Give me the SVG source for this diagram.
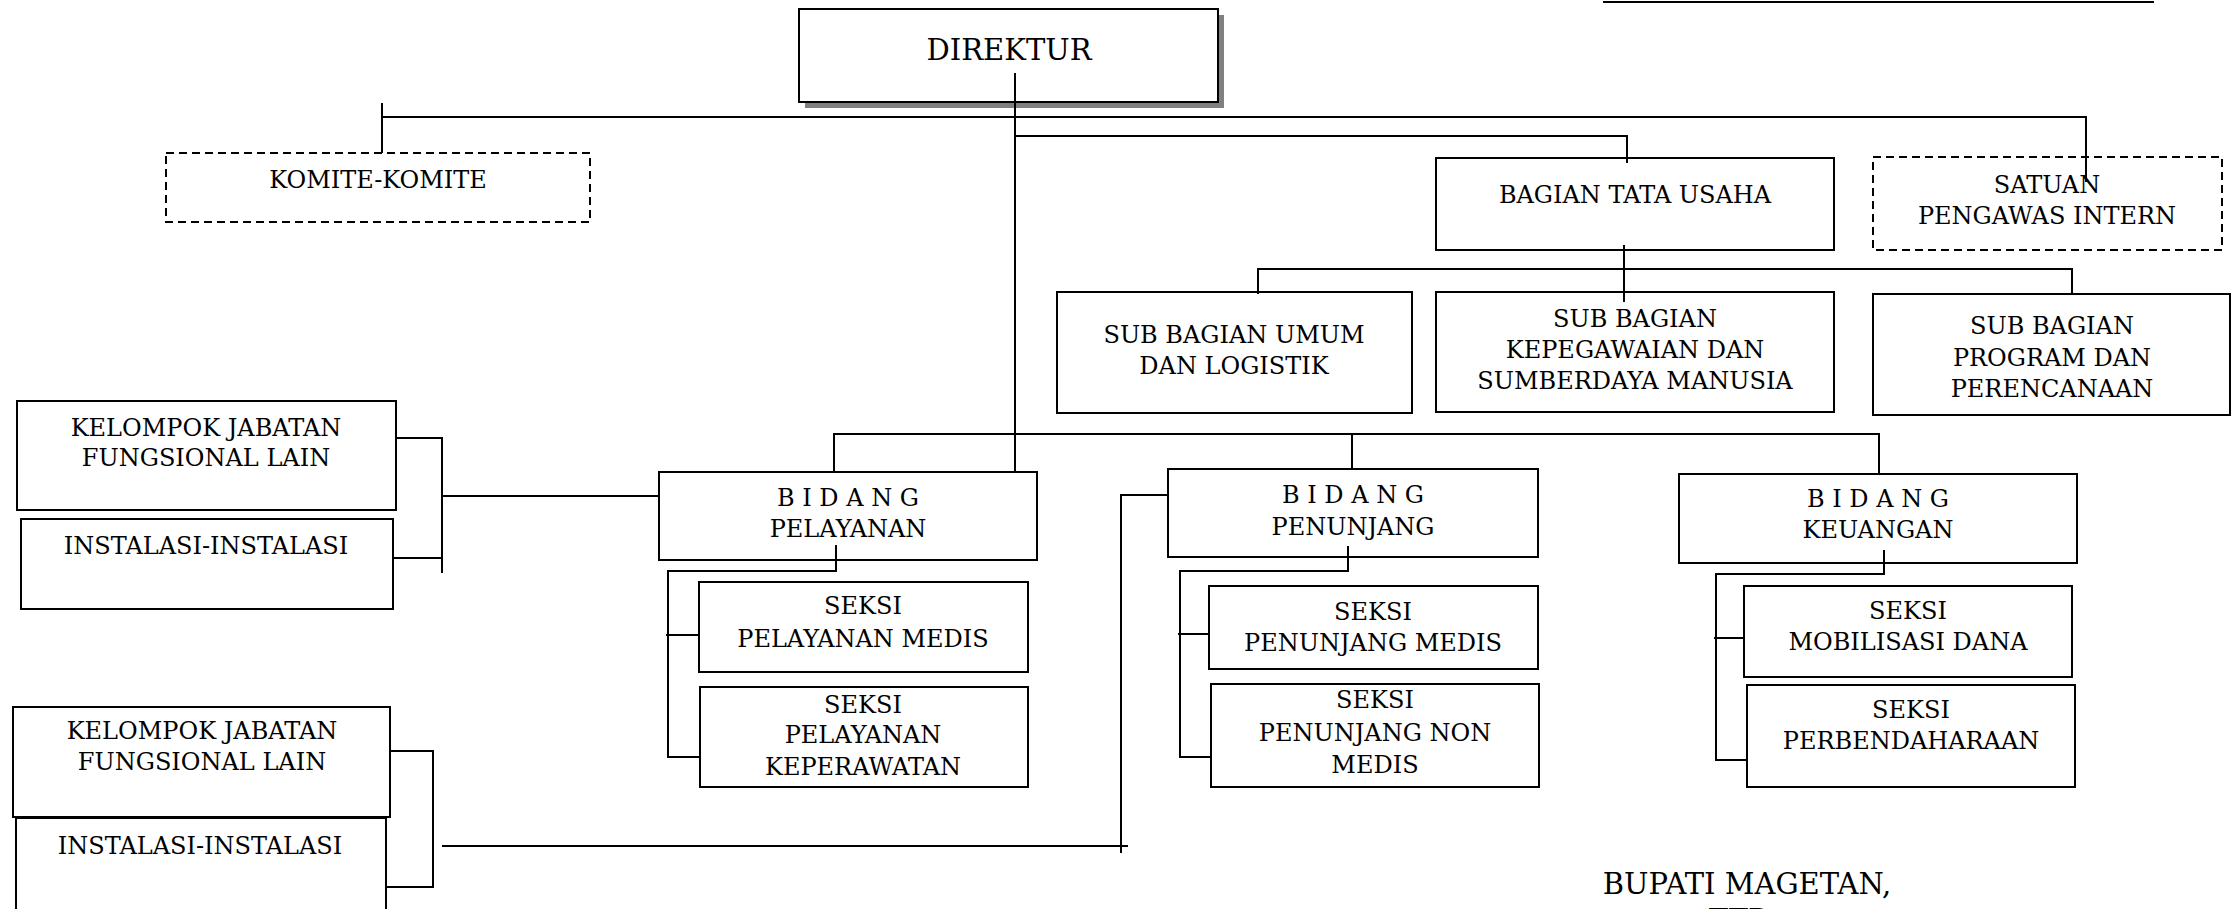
<svg xmlns="http://www.w3.org/2000/svg" width="2240" height="909" viewBox="0 0 2240 909">
<style>
.box{fill:#fff;stroke:#000;stroke-width:2}
.dash{fill:#fff;stroke:#000;stroke-width:2;stroke-dasharray:8 5}
.shadow{fill:#808080}
text{font-family:"DejaVu Serif","Liberation Serif",serif;font-size:24px;fill:#000;text-anchor:middle}
.big{font-size:29px}
.sig{font-size:29px}
#connectors line{stroke:#000;stroke-width:2}
</style>
<rect width="2240" height="909" fill="#fff"/>
<line x1="1603" y1="2" x2="2154" y2="2" stroke="#000" stroke-width="2"/>

<g id="direktur">
<rect class="shadow" x="805" y="15" width="419" height="93"/>
<rect class="box" x="799" y="9" width="419" height="93"/>
<text class="big" x="1009" y="60">DIREKTUR</text>
</g>
<g id="komite">
<rect class="dash" x="166" y="153" width="424" height="69"/>
<text x="378" y="188">KOMITE-KOMITE</text>
</g>
<g id="bagian-tata-usaha">
<rect class="box" x="1436" y="158" width="398" height="92"/>
<text x="1635" y="203">BAGIAN TATA USAHA</text>
</g>
<g id="satuan-pengawas">
<rect class="dash" x="1873" y="157" width="349" height="93"/>
<text x="2047" y="193">SATUAN</text>
<text x="2047" y="224">PENGAWAS INTERN</text>
</g>
<g id="sub-umum">
<rect class="box" x="1057" y="292" width="355" height="121"/>
<text x="1234" y="343">SUB BAGIAN UMUM</text>
<text x="1234" y="374">DAN LOGISTIK</text>
</g>
<g id="sub-kepegawaian">
<rect class="box" x="1436" y="292" width="398" height="120"/>
<text x="1635" y="327">SUB BAGIAN</text>
<text x="1635" y="358">KEPEGAWAIAN DAN</text>
<text x="1635" y="389">SUMBERDAYA MANUSIA</text>
</g>
<g id="sub-program">
<rect class="box" x="1873" y="294" width="357" height="121"/>
<text x="2052" y="334">SUB BAGIAN</text>
<text x="2052" y="366">PROGRAM DAN</text>
<text x="2052" y="397">PERENCANAAN</text>
</g>
<g id="kelompok-1">
<rect class="box" x="17" y="401" width="379" height="109"/>
<text x="206" y="436">KELOMPOK JABATAN</text>
<text x="206" y="466">FUNGSIONAL LAIN</text>
</g>
<g id="instalasi-1">
<rect class="box" x="21" y="519" width="372" height="90"/>
<text x="206" y="554">INSTALASI-INSTALASI</text>
</g>
<g id="bidang-pelayanan">
<rect class="box" x="659" y="472" width="378" height="88"/>
<text x="848" y="506">B I D A N G</text>
<text x="848" y="537">PELAYANAN</text>
</g>
<g id="seksi-pelayanan-medis">
<rect class="box" x="699" y="582" width="329" height="90"/>
<text x="863" y="614">SEKSI</text>
<text x="863" y="647">PELAYANAN MEDIS</text>
</g>
<g id="seksi-pelayanan-keperawatan">
<rect class="box" x="700" y="687" width="328" height="100"/>
<text x="863" y="713">SEKSI</text>
<text x="863" y="743">PELAYANAN</text>
<text x="863" y="775">KEPERAWATAN</text>
</g>
<g id="bidang-penunjang">
<rect class="box" x="1168" y="469" width="370" height="88"/>
<text x="1353" y="503">B I D A N G</text>
<text x="1353" y="535">PENUNJANG</text>
</g>
<g id="seksi-penunjang-medis">
<rect class="box" x="1209" y="586" width="329" height="83"/>
<text x="1373" y="620">SEKSI</text>
<text x="1373" y="651">PENUNJANG MEDIS</text>
</g>
<g id="seksi-penunjang-non-medis">
<rect class="box" x="1211" y="684" width="328" height="103"/>
<text x="1375" y="708">SEKSI</text>
<text x="1375" y="741">PENUNJANG NON</text>
<text x="1375" y="773">MEDIS</text>
</g>
<g id="bidang-keuangan">
<rect class="box" x="1679" y="474" width="398" height="89"/>
<text x="1878" y="507">B I D A N G</text>
<text x="1878" y="538">KEUANGAN</text>
</g>
<g id="seksi-mobilisasi-dana">
<rect class="box" x="1744" y="586" width="328" height="91"/>
<text x="1908" y="619">SEKSI</text>
<text x="1908" y="650">MOBILISASI DANA</text>
</g>
<g id="seksi-perbendaharaan">
<rect class="box" x="1747" y="685" width="328" height="102"/>
<text x="1911" y="718">SEKSI</text>
<text x="1911" y="749">PERBENDAHARAAN</text>
</g>
<g id="kelompok-2">
<rect class="box" x="13" y="707" width="377" height="110"/>
<text x="202" y="739">KELOMPOK JABATAN</text>
<text x="202" y="770">FUNGSIONAL LAIN</text>
</g>
<g id="instalasi-2">
<rect class="box" x="16" y="818" width="370" height="100"/>
<text x="200" y="854">INSTALASI-INSTALASI</text>
</g>
<g id="signature">
<text class="sig" x="1747" y="894">BUPATI MAGETAN,</text>
<text class="sig" x="1740" y="930">TTD</text>
</g>

<g id="connectors">
<line x1="1015" y1="73" x2="1015" y2="472"/>
<line x1="382" y1="117" x2="2087" y2="117"/>
<line x1="382" y1="103" x2="382" y2="153"/>
<line x1="2086" y1="117" x2="2086" y2="182"/>
<line x1="1015" y1="136" x2="1628" y2="136"/>
<line x1="1627" y1="136" x2="1627" y2="163"/>
<line x1="1624" y1="245" x2="1624" y2="302"/>
<line x1="1257" y1="269" x2="2073" y2="269"/>
<line x1="1258" y1="269" x2="1258" y2="294"/>
<line x1="2072" y1="269" x2="2072" y2="294"/>
<line x1="833" y1="434" x2="1880" y2="434"/>
<line x1="834" y1="434" x2="834" y2="472"/>
<line x1="1352" y1="434" x2="1352" y2="469"/>
<line x1="1879" y1="434" x2="1879" y2="474"/>
<line x1="836" y1="545" x2="836" y2="572"/>
<line x1="667" y1="571" x2="837" y2="571"/>
<line x1="668" y1="571" x2="668" y2="758"/>
<line x1="666" y1="635" x2="699" y2="635"/>
<line x1="667" y1="757" x2="700" y2="757"/>
<line x1="1348" y1="546" x2="1348" y2="572"/>
<line x1="1179" y1="571" x2="1349" y2="571"/>
<line x1="1180" y1="571" x2="1180" y2="758"/>
<line x1="1178" y1="634" x2="1209" y2="634"/>
<line x1="1179" y1="757" x2="1211" y2="757"/>
<line x1="1884" y1="550" x2="1884" y2="575"/>
<line x1="1715" y1="574" x2="1885" y2="574"/>
<line x1="1716" y1="574" x2="1716" y2="761"/>
<line x1="1714" y1="638" x2="1744" y2="638"/>
<line x1="1715" y1="760" x2="1747" y2="760"/>
<line x1="396" y1="438" x2="443" y2="438"/>
<line x1="442" y1="437" x2="442" y2="573"/>
<line x1="393" y1="558" x2="442" y2="558"/>
<line x1="442" y1="496" x2="659" y2="496"/>
<line x1="390" y1="751" x2="434" y2="751"/>
<line x1="433" y1="750" x2="433" y2="888"/>
<line x1="386" y1="887" x2="434" y2="887"/>
<line x1="442" y1="846" x2="1128" y2="846"/>
<line x1="1121" y1="494" x2="1121" y2="853"/>
<line x1="1120" y1="495" x2="1168" y2="495"/>
</g>
</svg>
